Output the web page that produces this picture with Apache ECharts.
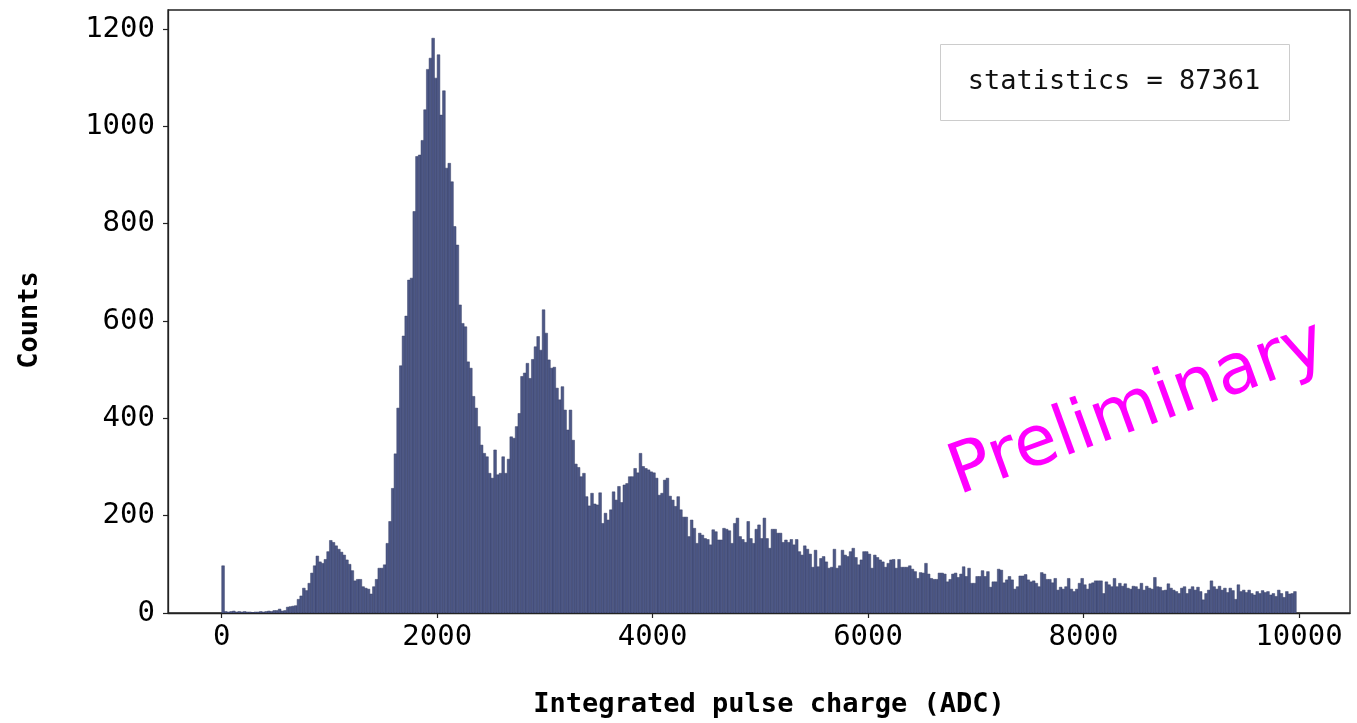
<!DOCTYPE html>
<html>
<head>
<meta charset="utf-8">
<title>Integrated pulse charge spectrum</title>
<script src="https://cdn.jsdelivr.net/npm/echarts@6/dist/echarts.min.js"></script>
<style>
  html, body { margin: 0; padding: 0; background: #ffffff; }
  #chart { width: 1357px; height: 723px; }
</style>
</head>
<body>
<div id="chart"></div>
<script>
// Histogram of integrated pulse charge: 399 bins of 25 ADC starting at 0
const BIN_START = 0;
const BIN_WIDTH = 25;
const counts = [
  97, 3, 2, 3, 4, 2, 3, 2, 3, 2,
  2, 1, 2, 2, 3, 2, 3, 4, 3, 5,
  5, 8, 4, 5, 12, 13, 14, 15, 28, 35,
  51, 46, 61, 82, 97, 117, 105, 102, 110, 126,
  149, 145, 138, 131, 125, 119, 109, 100, 87, 66,
  69, 69, 54, 51, 49, 39, 54, 69, 92, 92,
  99, 143, 188, 256, 327, 421, 508, 569, 610, 684,
  688, 825, 938, 941, 971, 1034, 1117, 1140, 1181, 1099,
  1147, 1023, 1073, 914, 924, 886, 794, 756, 633, 595,
  588, 516, 503, 445, 421, 383, 345, 328, 321, 287,
  277, 335, 284, 287, 321, 287, 316, 362, 359, 383,
  410, 486, 493, 513, 482, 521, 547, 568, 540, 623,
  575, 520, 503, 505, 462, 438, 465, 417, 376, 417,
  355, 306, 299, 280, 287, 239, 220, 246, 224, 222,
  247, 184, 205, 191, 212, 249, 232, 260, 227, 263,
  266, 280, 280, 297, 288, 328, 301, 297, 294, 290,
  288, 277, 242, 246, 273, 277, 240, 232, 219, 239,
  212, 197, 197, 157, 191, 174, 143, 164, 160, 153,
  151, 140, 171, 167, 150, 150, 174, 172, 169, 143,
  184, 195, 157, 151, 145, 188, 153, 143, 172, 181,
  153, 195, 153, 133, 172, 172, 164, 164, 145, 150,
  145, 151, 140, 151, 126, 119, 138, 131, 121, 94,
  129, 95, 112, 116, 105, 92, 94, 131, 92, 97,
  129, 119, 116, 126, 133, 114, 99, 109, 126, 126,
  121, 92, 119, 114, 109, 105, 94, 102, 109, 110,
  92, 110, 94, 94, 94, 97, 90, 85, 71, 83,
  82, 102, 80, 71, 69, 69, 82, 82, 80, 64,
  69, 80, 82, 73, 80, 95, 75, 92, 61, 61,
  75, 75, 87, 75, 85, 53, 64, 64, 90, 88,
  62, 68, 75, 68, 49, 54, 76, 76, 79, 68,
  64, 66, 61, 54, 83, 80, 69, 69, 62, 71,
  47, 53, 49, 54, 71, 49, 44, 49, 61, 71,
  58, 49, 60, 62, 66, 66, 66, 40, 64, 58,
  54, 71, 54, 61, 55, 60, 51, 49, 55, 54,
  49, 61, 47, 55, 51, 49, 73, 54, 53, 46,
  47, 60, 51, 47, 44, 40, 51, 54, 40, 49,
  54, 47, 53, 44, 27, 40, 47, 66, 54, 49,
  55, 47, 51, 42, 51, 46, 28, 58, 44, 47,
  42, 47, 40, 37, 44, 40, 46, 42, 44, 37,
  40, 34, 47, 40, 32, 44, 39, 40, 44
];
const xTicks = [0, 2000, 4000, 6000, 8000, 10000];
const yTicks = [0, 200, 400, 600, 800, 1000, 1200];
const statsText = 'statistics = 87361';
const xTitle = 'Integrated pulse charge (ADC)';
const yTitle = 'Counts';
const watermark = 'Preliminary';

const MONO = "'DejaVu Sans Mono', 'Liberation Mono', monospace";
const BAR_FILL = '#4d5886';
const BAR_EDGE = '#363e66';
const FRAME = '#222222';

const binData = counts.map((c, i) => [BIN_START + i * BIN_WIDTH, c]);

const chart = echarts.init(document.getElementById('chart'), null, { renderer: 'canvas' });

chart.setOption({
  animation: false,
  backgroundColor: '#ffffff',
  grid: {
    left: 168, right: 7, top: 10, bottom: 110,
    show: true, borderColor: FRAME, borderWidth: 1.3, backgroundColor: 'transparent'
  },
  xAxis: {
    type: 'value',
    min: -498.75,
    max: 10473.75,
    splitLine: { show: false },
    axisLine: { show: true, onZero: false, lineStyle: { color: FRAME, width: 1.3 } },
    axisTick: { show: true, customValues: xTicks, length: 5, lineStyle: { color: FRAME, width: 1.2 } },
    axisLabel: {
      customValues: xTicks, margin: 10,
      fontFamily: MONO, fontSize: 29, color: '#000000',
      formatter: v => String(v)
    }
  },
  yAxis: {
    type: 'value',
    min: 0,
    max: 1239,
    splitLine: { show: false },
    axisLine: { show: true, onZero: false, lineStyle: { color: FRAME, width: 1.3 } },
    axisTick: { show: true, customValues: yTicks, length: 5, lineStyle: { color: FRAME, width: 1.2 } },
    axisLabel: {
      customValues: yTicks, margin: 13,
      fontFamily: MONO, fontSize: 29, color: '#000000',
      formatter: v => String(v)
    }
  },
  series: [{
    type: 'custom',
    clip: true,
    encode: { x: 0, y: 1 },
    data: binData,
    renderItem: function (params, api) {
      const top = api.coord([api.value(0), api.value(1)]);
      const base = api.coord([api.value(0) + BIN_WIDTH, 0]);
      return {
        type: 'rect',
        shape: { x: top[0], y: top[1], width: base[0] - top[0], height: base[1] - top[1] },
        style: { fill: BAR_FILL, stroke: BAR_EDGE, lineWidth: 0.5 }
      };
    }
  }],
  graphic: [
    {
      type: 'rect', left: 940, top: 44, z: 10,
      shape: { width: 349, height: 76 },
      style: { fill: '#ffffff', stroke: '#cccccc', lineWidth: 1 }
    },
    {
      type: 'text', x: 1114, y: 82, z: 11,
      style: {
        text: statsText, font: "27px 'DejaVu Sans Mono', monospace",
        fill: '#111111', align: 'center', verticalAlign: 'middle'
      }
    },
    {
      type: 'text', x: 769, y: 705, z: 11,
      style: {
        text: xTitle, font: "bold 27px 'DejaVu Sans Mono', monospace",
        fill: '#000000', align: 'center', verticalAlign: 'middle'
      }
    },
    {
      type: 'text', x: 30, y: 320, z: 11, rotation: Math.PI / 2,
      style: {
        text: yTitle, font: "bold 27px 'DejaVu Sans Mono', monospace",
        fill: '#000000', align: 'center', verticalAlign: 'middle'
      }
    },
    {
      type: 'text', x: 1138, y: 410, z: 12, rotation: 20 * Math.PI / 180,
      style: {
        text: watermark, font: "70px 'DejaVu Sans', sans-serif",
        fill: '#ff00ff', align: 'center', verticalAlign: 'middle'
      }
    }
  ]
});
</script>
</body>
</html>
